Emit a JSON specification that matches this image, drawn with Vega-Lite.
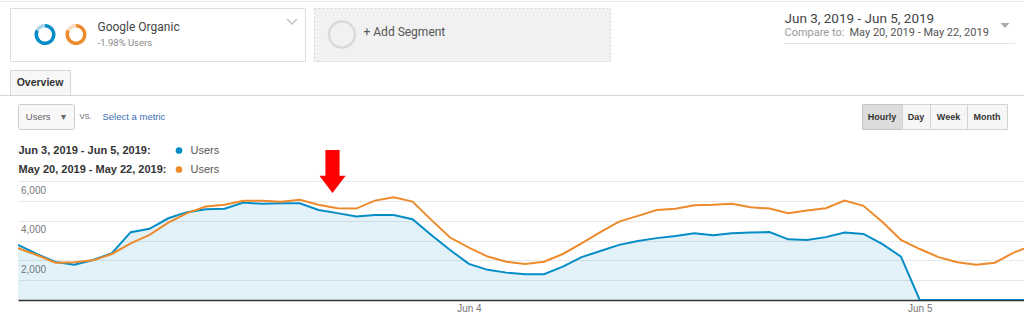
{
  "$schema": "https://vega.github.io/schema/vega-lite/v6.json",
  "background": "#ffffff",
  "padding": 0,
  "autosize": {"type": "pad"},
  "config": {"view": {"stroke": null}, "font": "Roboto", "text": {"baseline": "middle"}},
  "datasets": {
    "one": [{}],
    "legend": [
      {"period": "Jun 3, 2019 - Jun 5, 2019", "label": "Jun 3, 2019 - Jun 5, 2019:", "metric": "Users"},
      {"period": "May 20, 2019 - May 22, 2019", "label": "May 20, 2019 - May 22, 2019:", "metric": "Users"}
    ],
    "users": [
      {"hour": 0, "period": "Jun 3, 2019 - Jun 5, 2019", "users": 2780},
      {"hour": 1, "period": "Jun 3, 2019 - Jun 5, 2019", "users": 2320},
      {"hour": 2, "period": "Jun 3, 2019 - Jun 5, 2019", "users": 1920},
      {"hour": 3, "period": "Jun 3, 2019 - Jun 5, 2019", "users": 1780},
      {"hour": 4, "period": "Jun 3, 2019 - Jun 5, 2019", "users": 2020},
      {"hour": 5, "period": "Jun 3, 2019 - Jun 5, 2019", "users": 2360},
      {"hour": 6, "period": "Jun 3, 2019 - Jun 5, 2019", "users": 3420},
      {"hour": 7, "period": "Jun 3, 2019 - Jun 5, 2019", "users": 3590},
      {"hour": 8, "period": "Jun 3, 2019 - Jun 5, 2019", "users": 4120},
      {"hour": 9, "period": "Jun 3, 2019 - Jun 5, 2019", "users": 4430},
      {"hour": 10, "period": "Jun 3, 2019 - Jun 5, 2019", "users": 4580},
      {"hour": 11, "period": "Jun 3, 2019 - Jun 5, 2019", "users": 4600},
      {"hour": 12, "period": "Jun 3, 2019 - Jun 5, 2019", "users": 4910},
      {"hour": 13, "period": "Jun 3, 2019 - Jun 5, 2019", "users": 4850},
      {"hour": 14, "period": "Jun 3, 2019 - Jun 5, 2019", "users": 4880},
      {"hour": 15, "period": "Jun 3, 2019 - Jun 5, 2019", "users": 4880},
      {"hour": 16, "period": "Jun 3, 2019 - Jun 5, 2019", "users": 4540},
      {"hour": 17, "period": "Jun 3, 2019 - Jun 5, 2019", "users": 4380},
      {"hour": 18, "period": "Jun 3, 2019 - Jun 5, 2019", "users": 4210},
      {"hour": 19, "period": "Jun 3, 2019 - Jun 5, 2019", "users": 4280},
      {"hour": 20, "period": "Jun 3, 2019 - Jun 5, 2019", "users": 4280},
      {"hour": 21, "period": "Jun 3, 2019 - Jun 5, 2019", "users": 4070},
      {"hour": 22, "period": "Jun 3, 2019 - Jun 5, 2019", "users": 3280},
      {"hour": 23, "period": "Jun 3, 2019 - Jun 5, 2019", "users": 2520},
      {"hour": 24, "period": "Jun 3, 2019 - Jun 5, 2019", "users": 1820},
      {"hour": 25, "period": "Jun 3, 2019 - Jun 5, 2019", "users": 1520},
      {"hour": 26, "period": "Jun 3, 2019 - Jun 5, 2019", "users": 1380},
      {"hour": 27, "period": "Jun 3, 2019 - Jun 5, 2019", "users": 1300},
      {"hour": 28, "period": "Jun 3, 2019 - Jun 5, 2019", "users": 1300},
      {"hour": 29, "period": "Jun 3, 2019 - Jun 5, 2019", "users": 1680},
      {"hour": 30, "period": "Jun 3, 2019 - Jun 5, 2019", "users": 2160},
      {"hour": 31, "period": "Jun 3, 2019 - Jun 5, 2019", "users": 2470},
      {"hour": 32, "period": "Jun 3, 2019 - Jun 5, 2019", "users": 2780},
      {"hour": 33, "period": "Jun 3, 2019 - Jun 5, 2019", "users": 2980},
      {"hour": 34, "period": "Jun 3, 2019 - Jun 5, 2019", "users": 3120},
      {"hour": 35, "period": "Jun 3, 2019 - Jun 5, 2019", "users": 3230},
      {"hour": 36, "period": "Jun 3, 2019 - Jun 5, 2019", "users": 3370},
      {"hour": 37, "period": "Jun 3, 2019 - Jun 5, 2019", "users": 3270},
      {"hour": 38, "period": "Jun 3, 2019 - Jun 5, 2019", "users": 3370},
      {"hour": 39, "period": "Jun 3, 2019 - Jun 5, 2019", "users": 3400},
      {"hour": 40, "period": "Jun 3, 2019 - Jun 5, 2019", "users": 3430},
      {"hour": 41, "period": "Jun 3, 2019 - Jun 5, 2019", "users": 3060},
      {"hour": 42, "period": "Jun 3, 2019 - Jun 5, 2019", "users": 3030},
      {"hour": 43, "period": "Jun 3, 2019 - Jun 5, 2019", "users": 3170},
      {"hour": 44, "period": "Jun 3, 2019 - Jun 5, 2019", "users": 3400},
      {"hour": 45, "period": "Jun 3, 2019 - Jun 5, 2019", "users": 3330},
      {"hour": 46, "period": "Jun 3, 2019 - Jun 5, 2019", "users": 2830},
      {"hour": 47, "period": "Jun 3, 2019 - Jun 5, 2019", "users": 2190},
      {"hour": 48, "period": "Jun 3, 2019 - Jun 5, 2019", "users": 0},
      {"hour": 49, "period": "Jun 3, 2019 - Jun 5, 2019", "users": 0},
      {"hour": 50, "period": "Jun 3, 2019 - Jun 5, 2019", "users": 0},
      {"hour": 51, "period": "Jun 3, 2019 - Jun 5, 2019", "users": 0},
      {"hour": 52, "period": "Jun 3, 2019 - Jun 5, 2019", "users": 0},
      {"hour": 53, "period": "Jun 3, 2019 - Jun 5, 2019", "users": 0},
      {"hour": 54, "period": "Jun 3, 2019 - Jun 5, 2019", "users": 0},
      {"hour": 0, "period": "May 20, 2019 - May 22, 2019", "users": 2610},
      {"hour": 1, "period": "May 20, 2019 - May 22, 2019", "users": 2270},
      {"hour": 2, "period": "May 20, 2019 - May 22, 2019", "users": 1880},
      {"hour": 3, "period": "May 20, 2019 - May 22, 2019", "users": 1900},
      {"hour": 4, "period": "May 20, 2019 - May 22, 2019", "users": 2000},
      {"hour": 5, "period": "May 20, 2019 - May 22, 2019", "users": 2320},
      {"hour": 6, "period": "May 20, 2019 - May 22, 2019", "users": 2860},
      {"hour": 7, "period": "May 20, 2019 - May 22, 2019", "users": 3280},
      {"hour": 8, "period": "May 20, 2019 - May 22, 2019", "users": 3900},
      {"hour": 9, "period": "May 20, 2019 - May 22, 2019", "users": 4380},
      {"hour": 10, "period": "May 20, 2019 - May 22, 2019", "users": 4710},
      {"hour": 11, "period": "May 20, 2019 - May 22, 2019", "users": 4800},
      {"hour": 12, "period": "May 20, 2019 - May 22, 2019", "users": 5000},
      {"hour": 13, "period": "May 20, 2019 - May 22, 2019", "users": 5010},
      {"hour": 14, "period": "May 20, 2019 - May 22, 2019", "users": 4960},
      {"hour": 15, "period": "May 20, 2019 - May 22, 2019", "users": 5050},
      {"hour": 16, "period": "May 20, 2019 - May 22, 2019", "users": 4800},
      {"hour": 17, "period": "May 20, 2019 - May 22, 2019", "users": 4630},
      {"hour": 18, "period": "May 20, 2019 - May 22, 2019", "users": 4610},
      {"hour": 19, "period": "May 20, 2019 - May 22, 2019", "users": 5010},
      {"hour": 20, "period": "May 20, 2019 - May 22, 2019", "users": 5180},
      {"hour": 21, "period": "May 20, 2019 - May 22, 2019", "users": 4960},
      {"hour": 22, "period": "May 20, 2019 - May 22, 2019", "users": 4040},
      {"hour": 23, "period": "May 20, 2019 - May 22, 2019", "users": 3150},
      {"hour": 24, "period": "May 20, 2019 - May 22, 2019", "users": 2640},
      {"hour": 25, "period": "May 20, 2019 - May 22, 2019", "users": 2190},
      {"hour": 26, "period": "May 20, 2019 - May 22, 2019", "users": 1930},
      {"hour": 27, "period": "May 20, 2019 - May 22, 2019", "users": 1820},
      {"hour": 28, "period": "May 20, 2019 - May 22, 2019", "users": 1930},
      {"hour": 29, "period": "May 20, 2019 - May 22, 2019", "users": 2320},
      {"hour": 30, "period": "May 20, 2019 - May 22, 2019", "users": 2860},
      {"hour": 31, "period": "May 20, 2019 - May 22, 2019", "users": 3420},
      {"hour": 32, "period": "May 20, 2019 - May 22, 2019", "users": 3950},
      {"hour": 33, "period": "May 20, 2019 - May 22, 2019", "users": 4240},
      {"hour": 34, "period": "May 20, 2019 - May 22, 2019", "users": 4540},
      {"hour": 35, "period": "May 20, 2019 - May 22, 2019", "users": 4600},
      {"hour": 36, "period": "May 20, 2019 - May 22, 2019", "users": 4780},
      {"hour": 37, "period": "May 20, 2019 - May 22, 2019", "users": 4800},
      {"hour": 38, "period": "May 20, 2019 - May 22, 2019", "users": 4850},
      {"hour": 39, "period": "May 20, 2019 - May 22, 2019", "users": 4680},
      {"hour": 40, "period": "May 20, 2019 - May 22, 2019", "users": 4610},
      {"hour": 41, "period": "May 20, 2019 - May 22, 2019", "users": 4380},
      {"hour": 42, "period": "May 20, 2019 - May 22, 2019", "users": 4510},
      {"hour": 43, "period": "May 20, 2019 - May 22, 2019", "users": 4630},
      {"hour": 44, "period": "May 20, 2019 - May 22, 2019", "users": 5010},
      {"hour": 45, "period": "May 20, 2019 - May 22, 2019", "users": 4750},
      {"hour": 46, "period": "May 20, 2019 - May 22, 2019", "users": 3950},
      {"hour": 47, "period": "May 20, 2019 - May 22, 2019", "users": 3030},
      {"hour": 48, "period": "May 20, 2019 - May 22, 2019", "users": 2570},
      {"hour": 49, "period": "May 20, 2019 - May 22, 2019", "users": 2160},
      {"hour": 50, "period": "May 20, 2019 - May 22, 2019", "users": 1900},
      {"hour": 51, "period": "May 20, 2019 - May 22, 2019", "users": 1780},
      {"hour": 52, "period": "May 20, 2019 - May 22, 2019", "users": 1880},
      {"hour": 53, "period": "May 20, 2019 - May 22, 2019", "users": 2390},
      {"hour": 54, "period": "May 20, 2019 - May 22, 2019", "users": 2750}
    ]
  },
  "spacing": 0,
  "bounds": "flush",
  "vconcat": [
    {"width": 1, "height": 1, "data": {"name": "one"}, "mark": {"type": "rect", "opacity": 0}, "encoding": {}},
    {"width": 1024, "height": 1, "data": {"name": "one"}, "mark": {"type": "rect", "opacity": 0}, "encoding": {}, "view": {"fill": "#e9e9e9"}},
    {"width": 1, "height": 6, "data": {"name": "one"}, "mark": {"type": "rect", "opacity": 0}, "encoding": {}},
    {
      "spacing": 0, "bounds": "flush",
      "hconcat": [
        {"width": 10, "height": 1, "data": {"name": "one"}, "mark": {"type": "rect", "opacity": 0}, "encoding": {}},
        {
          "spacing": 0, "bounds": "flush",
          "vconcat": [
            {"spacing": 0, "bounds": "flush", "hconcat": [
              {"width": 295, "height": 53, "data": {"name": "one"}, "mark": {"type": "rect", "opacity": 0}, "encoding": {}, "view": {"fill": "#ffffff", "stroke": "#dedede"}}
            ]},
            {"spacing": 0, "bounds": "flush", "hconcat": [
              {"width": 20, "height": 1, "data": {"name": "one"}, "mark": {"type": "rect", "opacity": 0}, "encoding": {}},
              {"width": 30, "height": 53, "data": {"name": "one"}, "layer": [
                {"mark": {"type": "arc", "innerRadius": 7, "outerRadius": 10.5, "theta": 0, "theta2": 5.2, "color": "#058dc7"}, "encoding": {}},
                {"mark": {"type": "arc", "innerRadius": 7, "outerRadius": 10.5, "theta": 5.2, "theta2": 6.2832, "color": "#a9d4ea"}, "encoding": {}}
              ]},
              {"width": 1, "height": 1, "data": {"name": "one"}, "mark": {"type": "rect", "opacity": 0}, "encoding": {}},
              {"width": 30, "height": 53, "data": {"name": "one"}, "layer": [
                {"mark": {"type": "arc", "innerRadius": 7, "outerRadius": 10.5, "theta": 0, "theta2": 5.2, "color": "#ed8a2b"}, "encoding": {}},
                {"mark": {"type": "arc", "innerRadius": 7, "outerRadius": 10.5, "theta": 5.2, "theta2": 6.2832, "color": "#f8d9bb"}, "encoding": {}}
              ]},
              {"width": 6, "height": 1, "data": {"name": "one"}, "mark": {"type": "rect", "opacity": 0}, "encoding": {}},
              {"spacing": 0, "bounds": "flush", "vconcat": [
                {"width": 1, "height": 10, "data": {"name": "one"}, "mark": {"type": "rect", "opacity": 0}, "encoding": {}},
                {"width": 1, "height": 17, "data": {"name": "one"}, "mark": {"type": "text", "text": "Google Organic", "align": "left", "font": "Roboto", "fontSize": 12, "color": "#444444"}, "encoding": {}},
                {"width": 1, "height": 15, "data": {"name": "one"}, "mark": {"type": "text", "text": "-1.98% Users", "align": "left", "font": "Roboto", "fontSize": 9.5, "color": "#8a8a8a"}, "encoding": {}}
              ]},
              {"width": 190, "height": 1, "data": {"name": "one"}, "mark": {"type": "rect", "opacity": 0}, "encoding": {}},
              {"width": 10, "height": 27, "data": {"name": "one"}, "mark": {"type": "point", "shape": "M-1,-0.5L0,0.5L1,-0.5", "filled": false, "size": 100, "color": "#c4c4c4", "strokeWidth": 1.5, "opacity": 1}, "encoding": {}}
            ]}
          ]
        },
        {"width": 304, "height": 1, "data": {"name": "one"}, "mark": {"type": "rect", "opacity": 0}, "encoding": {}},
        {
          "spacing": 0, "bounds": "flush",
          "vconcat": [
            {"spacing": 0, "bounds": "flush", "hconcat": [
              {"width": 296, "height": 53, "data": {"name": "one"}, "mark": {"type": "rect", "opacity": 0}, "encoding": {}, "view": {"fill": "#f1f1f1", "stroke": "#d2d2d2", "strokeDash": [2, 2]}}
            ]},
            {"spacing": 0, "bounds": "flush", "hconcat": [
              {"width": 14, "height": 1, "data": {"name": "one"}, "mark": {"type": "rect", "opacity": 0}, "encoding": {}},
              {"width": 28, "height": 53, "data": {"name": "one"}, "mark": {"type": "point", "shape": "circle", "filled": false, "size": 676, "color": "#d9d9d9", "strokeWidth": 2.5, "opacity": 1}, "encoding": {}},
              {"width": 7, "height": 1, "data": {"name": "one"}, "mark": {"type": "rect", "opacity": 0}, "encoding": {}},
              {"width": 1, "height": 48, "data": {"name": "one"}, "mark": {"type": "text", "text": "+ Add Segment", "align": "left", "font": "Roboto", "fontSize": 12, "color": "#555555"}, "encoding": {}}
            ]}
          ]
        },
        {"width": 470, "height": 1, "data": {"name": "one"}, "mark": {"type": "rect", "opacity": 0}, "encoding": {}},
        {
          "spacing": 0, "bounds": "flush",
          "vconcat": [
            {"width": 1, "height": 4, "data": {"name": "one"}, "mark": {"type": "rect", "opacity": 0}, "encoding": {}},
            {"spacing": 0, "bounds": "flush", "hconcat": [
              {"width": 1, "height": 14, "data": {"name": "one"}, "mark": {"type": "text", "text": "Jun 3, 2019 - Jun 5, 2019", "align": "left", "font": "Roboto", "fontSize": 13.5, "color": "#444444"}, "encoding": {}},
              {"width": 215, "height": 1, "data": {"name": "one"}, "mark": {"type": "rect", "opacity": 0}, "encoding": {}},
              {"width": 10, "height": 27, "data": {"name": "one"}, "mark": {"type": "point", "shape": "M-1,-0.55L1,-0.55L0,0.55Z", "filled": true, "size": 81, "color": "#aaaaaa", "opacity": 1}, "encoding": {}}
            ]},
            {"width": 1, "height": 14, "data": {"name": "one"}, "mark": {"type": "rect", "opacity": 0}, "encoding": {}},
            {"spacing": 0, "bounds": "flush", "hconcat": [
              {"width": 1, "height": 13, "data": {"name": "one"}, "mark": {"type": "text", "text": "Compare to:", "align": "left", "font": "Roboto", "fontSize": 11, "color": "#9a9a9a"}, "encoding": {}},
              {"width": 64, "height": 1, "data": {"name": "one"}, "mark": {"type": "rect", "opacity": 0}, "encoding": {}},
              {"width": 1, "height": 13, "data": {"name": "one"}, "mark": {"type": "text", "text": "May 20, 2019 - May 22, 2019", "align": "left", "font": "Roboto", "fontSize": 11, "color": "#555555"}, "encoding": {}}
            ]},
            {"width": 1, "height": 17, "data": {"name": "one"}, "mark": {"type": "rect", "opacity": 0}, "encoding": {}},
            {"width": 231, "height": 1, "data": {"name": "one"}, "mark": {"type": "rect", "opacity": 0}, "encoding": {}, "view": {"fill": "#e4e4e4"}}
          ]
        }
      ]
    },
    {"width": 1, "height": 62, "data": {"name": "one"}, "mark": {"type": "rect", "opacity": 0}, "encoding": {}},
    {
      "spacing": 0, "bounds": "flush",
      "hconcat": [
        {"width": 10, "height": 1, "data": {"name": "one"}, "mark": {"type": "rect", "opacity": 0}, "encoding": {}},
        {"width": 60, "height": 25, "data": {"name": "one"}, "mark": {"type": "text", "text": "Overview", "font": "Liberation Sans", "fontSize": 10.5, "fontWeight": "bold", "color": "#333333"}, "encoding": {}, "view": {"fill": "#f7f7f7", "stroke": "#d6d6d6"}}
      ]
    },
    {"width": 1, "height": 25, "data": {"name": "one"}, "mark": {"type": "rect", "opacity": 0}, "encoding": {}},
    {"width": 1024, "height": 1, "data": {"name": "one"}, "mark": {"type": "rect", "opacity": 0}, "encoding": {}, "view": {"fill": "#d6d6d6"}},
    {"width": 1, "height": 8, "data": {"name": "one"}, "mark": {"type": "rect", "opacity": 0}, "encoding": {}},
    {
      "spacing": 0, "bounds": "flush",
      "hconcat": [
        {"width": 18, "height": 1, "data": {"name": "one"}, "mark": {"type": "rect", "opacity": 0}, "encoding": {}},
        {"width": 56, "height": 25, "data": {"name": "one"}, "mark": {"type": "text", "text": "Users\u00a0\u00a0\u00a0\u00a0▾", "font": "Liberation Sans", "fontSize": 9.5, "color": "#666666"}, "encoding": {}, "view": {"fill": "#f8f8f8", "stroke": "#cccccc", "cornerRadius": 2}},
        {"width": 5, "height": 1, "data": {"name": "one"}, "mark": {"type": "rect", "opacity": 0}, "encoding": {}},
        {"width": 1, "height": 25, "data": {"name": "one"}, "mark": {"type": "text", "text": "VS.", "align": "left", "font": "Liberation Sans", "fontSize": 7.5, "color": "#666666"}, "encoding": {}},
        {"width": 22, "height": 1, "data": {"name": "one"}, "mark": {"type": "rect", "opacity": 0}, "encoding": {}},
        {"width": 1, "height": 25, "data": {"name": "one"}, "mark": {"type": "text", "text": "Select a metric", "align": "left", "font": "Liberation Sans", "fontSize": 9.5, "color": "#3b6eb5"}, "encoding": {}},
        {"width": 759, "height": 1, "data": {"name": "one"}, "mark": {"type": "rect", "opacity": 0}, "encoding": {}},
        {"width": 40, "height": 25, "data": {"name": "one"}, "mark": {"type": "text", "text": "Hourly", "font": "Liberation Sans", "fontSize": 9, "fontWeight": "bold", "color": "#333333"}, "encoding": {}, "view": {"fill": "#dcdcdc", "stroke": "#c4c4c4"}},
        {"width": 28, "height": 25, "data": {"name": "one"}, "mark": {"type": "text", "text": "Day", "font": "Liberation Sans", "fontSize": 9, "fontWeight": "bold", "color": "#333333"}, "encoding": {}, "view": {"fill": "#f6f6f6", "stroke": "#d3d3d3"}},
        {"width": 37, "height": 25, "data": {"name": "one"}, "mark": {"type": "text", "text": "Week", "font": "Liberation Sans", "fontSize": 9, "fontWeight": "bold", "color": "#333333"}, "encoding": {}, "view": {"fill": "#f6f6f6", "stroke": "#d3d3d3"}},
        {"width": 40, "height": 25, "data": {"name": "one"}, "mark": {"type": "text", "text": "Month", "font": "Liberation Sans", "fontSize": 9, "fontWeight": "bold", "color": "#333333"}, "encoding": {}, "view": {"fill": "#f6f6f6", "stroke": "#d3d3d3"}}
      ]
    },
    {"width": 1, "height": 37, "data": {"name": "one"}, "mark": {"type": "rect", "opacity": 0}, "encoding": {}},
    {
      "spacing": 0, "bounds": "flush",
      "hconcat": [
        {
          "spacing": 0, "bounds": "flush",
          "vconcat": [
            {
              "spacing": 0, "bounds": "flush",
              "hconcat": [
                {"width": 18, "height": 1, "data": {"name": "one"}, "mark": {"type": "rect", "opacity": 0}, "encoding": {}},
                {"width": 1, "height": 38, "data": {"name": "legend"}, "mark": {"type": "text", "align": "left", "font": "Liberation Sans", "fontSize": 11, "fontWeight": "bold", "color": "#333333"},
                 "encoding": {"y": {"field": "period", "type": "nominal", "sort": null, "axis": null}, "text": {"field": "label"}}},
                {"width": 155, "height": 1, "data": {"name": "one"}, "mark": {"type": "rect", "opacity": 0}, "encoding": {}},
                {"width": 10, "height": 38, "data": {"name": "legend"}, "mark": {"type": "point", "shape": "circle", "filled": true, "size": 45, "opacity": 1},
                 "encoding": {"y": {"field": "period", "type": "nominal", "sort": null, "axis": null},
                              "color": {"field": "period", "type": "nominal", "scale": {"domain": ["Jun 3, 2019 - Jun 5, 2019", "May 20, 2019 - May 22, 2019"], "range": ["#058dc7", "#ed8a2b"]}, "legend": null}}},
                {"width": 6, "height": 1, "data": {"name": "one"}, "mark": {"type": "rect", "opacity": 0}, "encoding": {}},
                {"width": 1, "height": 38, "data": {"name": "legend"}, "mark": {"type": "text", "align": "left", "font": "Liberation Sans", "fontSize": 11, "color": "#555555"},
                 "encoding": {"y": {"field": "period", "type": "nominal", "sort": null, "axis": null}, "text": {"field": "metric"}}}
              ]
            },
            {"width": 1, "height": 40, "data": {"name": "one"}, "mark": {"type": "rect", "opacity": 0}, "encoding": {}},
            {
              "spacing": 0, "bounds": "flush",
              "hconcat": [
                {"width": 18, "height": 1, "data": {"name": "one"}, "mark": {"type": "rect", "opacity": 0}, "encoding": {}},
                {
                  "width": 1006, "height": 119,
                  "data": {"name": "users"},
                  "encoding": {
                    "x": {"field": "hour", "type": "quantitative", "scale": {"domain": [0, 53.55], "nice": false, "zero": false},
                          "axis": {"values": [24, 48], "labelExpr": "datum.value == 24 ? 'Jun 4' : 'Jun 5'", "title": null, "grid": false, "ticks": false, "tickSize": 0, "domain": true, "domainColor": "#333333", "domainWidth": 1.5, "labelFont": "Liberation Sans", "labelFontSize": 10, "labelColor": "#777777", "labelPadding": 3, "labelFlush": false}},
                    "y": {"field": "users", "type": "quantitative", "scale": {"domain": [0, 6000], "nice": false},
                          "axis": {"values": [0, 1000, 2000, 3000, 4000, 5000, 6000], "labelExpr": "datum.value > 0 && datum.value % 2000 == 0 ? format(datum.value, ',') : ''", "labelOverlap": false, "title": null, "domain": false, "ticks": false, "tickSize": 0, "grid": true, "gridColor": "#e8e8e8", "gridWidth": 1, "labelAlign": "left", "labelBaseline": "top", "labelPadding": -2.5, "labelOffset": 4, "labelFont": "Liberation Sans", "labelFontSize": 10, "labelColor": "#777777"}}
                  },
                  "layer": [
                    {"transform": [{"filter": {"field": "period", "equal": "Jun 3, 2019 - Jun 5, 2019"}}],
                     "mark": {"type": "area", "color": "#058dc7", "opacity": 0.115, "clip": true}},
                    {"transform": [{"filter": {"field": "period", "equal": "Jun 3, 2019 - Jun 5, 2019"}}],
                     "mark": {"type": "line", "strokeWidth": 2, "clip": true},
                     "encoding": {"color": {"field": "period", "type": "nominal", "scale": {"domain": ["Jun 3, 2019 - Jun 5, 2019", "May 20, 2019 - May 22, 2019"], "range": ["#058dc7", "#ed8a2b"]}, "legend": null}}},
                    {"transform": [{"filter": {"field": "period", "equal": "May 20, 2019 - May 22, 2019"}}],
                     "mark": {"type": "line", "strokeWidth": 2, "clip": true},
                     "encoding": {"color": {"field": "period", "type": "nominal", "scale": {"domain": ["Jun 3, 2019 - Jun 5, 2019", "May 20, 2019 - May 22, 2019"], "range": ["#058dc7", "#ed8a2b"]}, "legend": null}}}
                  ]
                }
              ]
            }
          ]
        },
        {"width": 319, "height": 1, "data": {"name": "one"}, "mark": {"type": "rect", "opacity": 0}, "encoding": {}},
        {"width": 27, "height": 61, "data": {"name": "one"}, "mark": {"type": "point", "shape": "M-0.33,-1L0.33,-1L0.33,0.2L0.61,0.2L0,1L-0.61,0.2L-0.33,0.2Z", "size": 1849, "filled": true, "color": "#ff0000", "opacity": 1}, "encoding": {}}
      ]
    }
  ]
}
